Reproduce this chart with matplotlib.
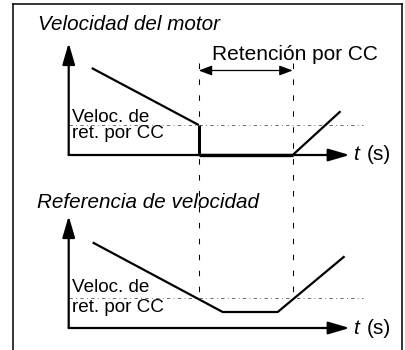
import matplotlib
matplotlib.use("Agg")
import matplotlib.pyplot as plt
from matplotlib.lines import Line2D

plt.rcParams['font.family'] = ['Liberation Sans', 'DejaVu Sans']

# ---- data (diagram units: time, speed) ----
motor_t = [2.3, 13.0, 13.0]
motor_v = [8.7, 3.0, 0.0]
hold_t = [13.0, 22.4]
hold_v = [0.0, 0.0]
restart_t = [22.4, 27.1]
restart_v = [0.0, 4.3]

ref_t = [2.5, 15.4, 20.9, 27.5]
ref_v = [8.5, 1.6, 1.6, 7.1]

hold_speed = 3.0
hold_start, hold_end = 13.0, 22.4
t_axis_max = 28.1
v_axis_max = 11.2
t_dotted_max = 29.4

title_top = "Velocidad del motor"
title_bot = "Referencia de velocidad"
hold_label = "Retención por CC"
speed_label = ["Veloc. de", "ret. por CC"]

W, H = 405, 350
fig = plt.figure(figsize=(W / 100, H / 100), dpi=100)

# px scale: 1 unit = 10 px
x0_px = 68.7
xlim = (-x0_px / 10, (W - x0_px) / 10)

ax1 = fig.add_axes([0, 0.5, 1, 0.5])
ax1.set_xlim(*xlim)
ax1.set_ylim((155 - 175) / 10, 155 / 10)
ax2 = fig.add_axes([0, 0, 1, 0.5])
ax2.set_xlim(*xlim)
ax2.set_ylim((328 - 350) / 10, (328 - 175) / 10)
for ax in (ax1, ax2):
    ax.axis('off')
    ax.patch.set_visible(False)

# frame
fig.add_artist(Line2D([12.5 / W, 12.5 / W], [0, 1 - 4 / H], color='black', lw=1.1, transform=fig.transFigure))
fig.add_artist(Line2D([12.5 / W, 402 / W], [1 - 4 / H, 1 - 4 / H], color='black', lw=1.1, transform=fig.transFigure))
fig.add_artist(Line2D([402 / W, 402 / W], [0, 1 - 4 / H], color='black', lw=1.1, transform=fig.transFigure))

axis_arrow = dict(arrowstyle='-|>,head_length=1.3,head_width=0.38', color='black', lw=1.6,
                  mutation_scale=10, shrinkA=0, shrinkB=0)

for ax in (ax1, ax2):
    ax.annotate('', xy=(0, v_axis_max), xytext=(0, 0), arrowprops=axis_arrow)
    ax.annotate('', xy=(t_axis_max, 0), xytext=(0, 0), arrowprops=axis_arrow)
    ax.plot([0, t_dotted_max], [hold_speed, hold_speed], color='#555555', lw=0.6,
            linestyle=(0, (4, 4, 1, 4)), zorder=1)
    ax.text(t_axis_max + 0.3, 0, 't', style='italic', fontsize=15, ha='left', va='center')
    ax.text(t_axis_max + 1.7, 0, '(s)', fontsize=15, ha='left', va='center')

# motor speed
ax1.plot(motor_t[:2], motor_v[:2], color='black', lw=1.6, solid_capstyle='butt')
ax1.plot(motor_t[1:], motor_v[1:], color='black', lw=2.2, solid_capstyle='butt')
ax1.plot(hold_t, hold_v, color='black', lw=2.4, solid_capstyle='butt')
ax1.plot(restart_t, restart_v, color='black', lw=1.6)

# reference
ax2.plot(ref_t, ref_v, color='black', lw=1.6)

# dashed verticals spanning both panels
for tv in (hold_start, hold_end):
    ax1.plot([tv, tv], [(155 - 63) / 10, (155 - 302) / 10], color='black', lw=0.75,
             linestyle=(0, (5.3, 10)), clip_on=False, zorder=0)

# double arrow
ax1.annotate('', xy=(hold_end, 8.45), xytext=(hold_start, 8.45),
             arrowprops=dict(arrowstyle='<|-|>,head_length=0.8,head_width=0.3', color='black',
                             lw=0.9, mutation_scale=10, shrinkA=0, shrinkB=0))
ax1.text((212 - x0_px) / 10, 10.0, hold_label, fontsize=15, ha='left', va='center')

# titles
ax1.text(-3.07, 13.0, title_top, style='italic', fontsize=14.9, ha='left', va='center')
ax2.text(-3.17, 12.5, title_bot, style='italic', fontsize=14.9, ha='left', va='center')

# speed labels
ax1.text(0.33, 3.8, speed_label[0], fontsize=13.6, ha='left', va='center')
ax1.text(0.33, 2.2, speed_label[1], fontsize=13.6, ha='left', va='center')
ax2.text(0.33, 4.1, speed_label[0], fontsize=13.6, ha='left', va='center')
ax2.text(0.33, 2.1, speed_label[1], fontsize=13.6, ha='left', va='center')

fig.savefig('out.png', dpi=100)
